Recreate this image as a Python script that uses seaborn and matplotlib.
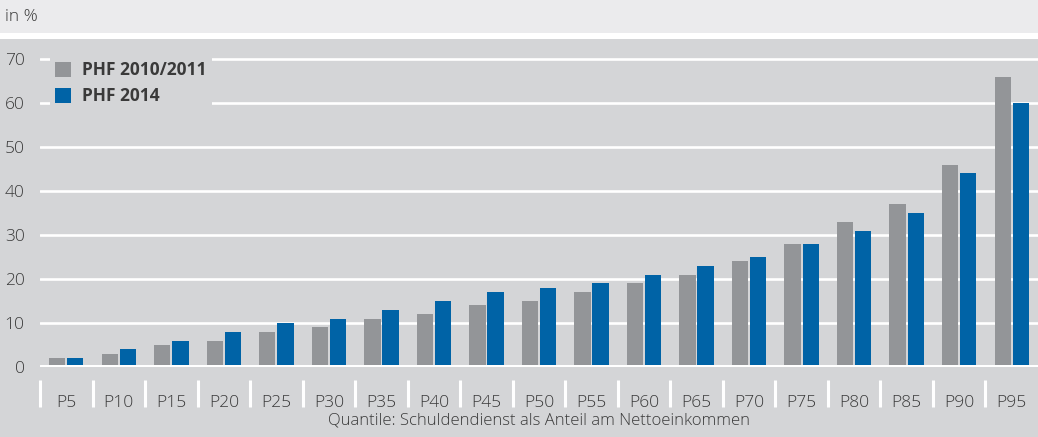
import matplotlib
matplotlib.use("Agg")
import matplotlib.pyplot as plt
import matplotlib.transforms as mtransforms
from matplotlib.patches import Rectangle
import seaborn as sns
import pandas as pd

categories = ["P5", "P10", "P15", "P20", "P25", "P30", "P35", "P40", "P45", "P50",
              "P55", "P60", "P65", "P70", "P75", "P80", "P85", "P90", "P95"]
phf_2010 = [2, 3, 5, 6, 8, 9, 11, 12, 14, 15, 17, 19, 21, 24, 28, 33, 37, 46, 66]
phf_2014 = [2, 4, 6, 8, 10, 11, 13, 15, 17, 18, 19, 21, 23, 25, 28, 31, 35, 44, 60]
series_names = ["PHF 2010/2011", "PHF 2014"]
y_ticks = [0, 10, 20, 30, 40, 50, 60, 70]

df = pd.DataFrame({
    "cat": categories * 2,
    "val": phf_2010 + phf_2014,
    "series": [series_names[0]] * len(categories) + [series_names[1]] * len(categories),
})

PANEL = "#d4d5d7"
HEADER = "#ebebed"
TEXT = "#3a3a3a"

sns.set_theme(style="white")
plt.rcParams["font.family"] = ["Open Sans", "DejaVu Sans"]

W, H = 1038, 437
fig = plt.figure(figsize=(W / 100, H / 100), dpi=100, facecolor=PANEL)

# header band
fig.patches.append(Rectangle((0, (H - 39) / H), 1, 39 / H, transform=fig.transFigure,
                             facecolor="white", edgecolor="none", zorder=0))
fig.patches.append(Rectangle((0, (H - 33) / H), 1, 33 / H, transform=fig.transFigure,
                             facecolor=HEADER, edgecolor="none", zorder=0))
fig.text(5 / W, 1 - 17 / H, "in %", fontsize=12.5, color=TEXT, va="center", ha="left",
         fontweight="light")

ymax = 73.5
px_per_unit = 4.4
ax_left, ax_right = 40, 1038
ax_bottom = 367
ax_top = ax_bottom - ymax * px_per_unit
ax = fig.add_axes([ax_left / W, (H - ax_bottom) / H, (ax_right - ax_left) / W,
                   (ax_bottom - ax_top) / H])
ax.set_facecolor(PANEL)

sns.barplot(data=df, x="cat", y="val", hue="series", order=categories,
            hue_order=series_names, palette=["#939598", "#0063a6"],
            width=0.69, gap=0.1, ax=ax, saturation=1, zorder=3, legend=True,
            linewidth=0, edgecolor="none")

ax.set_ylim(0, ymax)
ax.set_xlim(-0.5, len(categories) - 0.5)
ax.set_yticks(y_ticks)
for t in y_ticks:
    ax.axhline(t, color="white", lw=3.6 if t == 0 else 1.9, zorder=1 if t else 4)
for s in ax.spines.values():
    s.set_visible(False)
ax.tick_params(axis="y", length=0, pad=11, labelsize=12.5, labelcolor=TEXT)
ax.tick_params(axis="x", length=0, pad=20, labelsize=12.5, labelcolor=TEXT)
for lab in ax.get_xticklabels() + ax.get_yticklabels():
    lab.set_fontweight("light")
ax.set_ylabel("")
ax.set_xlabel("Quantile: Schuldendienst als Anteil am Nettoeinkommen", fontsize=12,
              color=TEXT, labelpad=1, fontweight="light")

# category separators below the axis
trans = mtransforms.blended_transform_factory(ax.transData, ax.transAxes)
h_ax = ax_bottom - ax_top
for i in range(len(categories)):
    b = i - 0.5
    ax.plot([b, b], [-(380 - ax_bottom) / h_ax, -(407 - ax_bottom) / h_ax],
            transform=trans, color="white", lw=2.2, clip_on=False,
            solid_capstyle="butt")

leg = ax.legend(loc="upper left", bbox_to_anchor=(1 / (ax_right - ax_left), 1 - 4 / h_ax),
                frameon=True, facecolor=PANEL, edgecolor="none", framealpha=1,
                fontsize=12.5, handlelength=0.95, handleheight=1.0, handletextpad=0.6,
                labelspacing=0.45, borderpad=0.3, fancybox=False)
for txt in leg.get_texts():
    txt.set_fontweight("bold")
    txt.set_color(TEXT)
leg.set_zorder(5)

fig.savefig("out.png", dpi=100, facecolor=PANEL)
